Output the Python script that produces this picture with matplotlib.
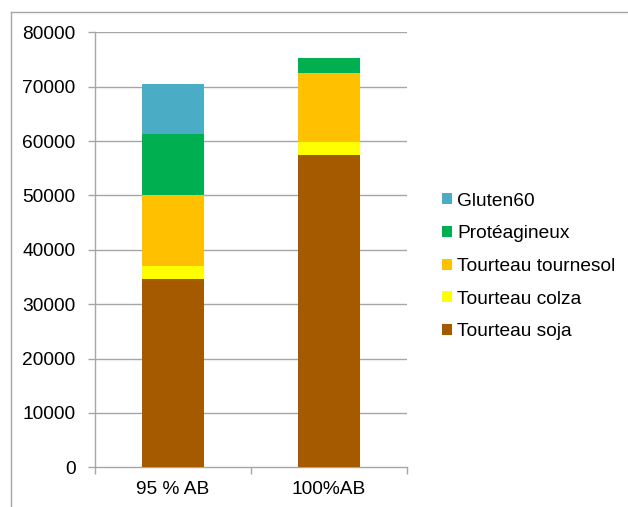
import matplotlib
matplotlib.use("Agg")
import matplotlib.pyplot as plt
from matplotlib.patches import Patch
from matplotlib.lines import Line2D
import numpy as np

plt.rcParams['font.family'] = ['Liberation Sans', 'DejaVu Sans']

# Stacked composition of the protein ration for each scenario
categories = ["95 % AB", "100%AB"]
series_names = ["Tourteau soja", "Tourteau colza", "Tourteau tournesol",
                "Protéagineux", "Gluten60"]
tourteau_soja = [34550, 57400]
tourteau_colza = [2380, 2440]
tourteau_tournesol = [13070, 12740]
proteagineux = [11300, 2740]
gluten60 = [9200, 0]
series_values = [tourteau_soja, tourteau_colza, tourteau_tournesol,
                 proteagineux, gluten60]
colors = ["#A65A00", "#FFFF00", "#FFC000", "#00B050", "#4BACC6"]
y_ticks = [0, 10000, 20000, 30000, 40000, 50000, 60000, 70000, 80000]

W, H = 628, 507
fig = plt.figure(figsize=(W / 100, H / 100), dpi=100)
ax = fig.add_axes([95 / W, 1 - 467.3 / H, (407 - 95) / W, (467.3 - 32.3) / H])

grid_color = "#A6A6A6"
fs = 13.8
x = np.arange(len(categories))
bottom = np.zeros(len(categories))
for name, vals, col in zip(series_names, series_values, colors):
    vals = np.array(vals, dtype=float)
    ax.bar(x, vals, width=0.4, bottom=bottom, color=col, label=name,
           zorder=3, linewidth=0)
    bottom += vals

ax.set_xlim(-0.5, len(categories) - 0.5)
ax.set_ylim(0, 80000)
ax.set_yticks(y_ticks)
ax.set_yticklabels([str(v) for v in y_ticks])
ax.set_xticks(x)
ax.set_xticklabels(categories)
ax.set_xticks(np.arange(-0.5, len(categories)), minor=True)

for v in y_ticks[1:]:
    ax.axhline(v, color=grid_color, linewidth=1.0, zorder=1)

for side in ("top", "right"):
    ax.spines[side].set_visible(False)
for side in ("left", "bottom"):
    ax.spines[side].set_color(grid_color)
    ax.spines[side].set_linewidth(1.0)

ax.tick_params(axis="y", direction="out", length=5, width=1.0,
               color=grid_color, labelsize=fs, pad=9, labelcolor="black")
ax.tick_params(axis="x", which="major", length=0, labelsize=fs, pad=10,
               labelcolor="black")
ax.tick_params(axis="x", which="minor", direction="out", length=5,
               width=1.0, color=grid_color)

handles = [Patch(facecolor=c, edgecolor="none") for c in colors][::-1]
labels = series_names[::-1]
fig.legend(handles, labels, loc="center left",
           bbox_to_anchor=(442 / W, 1 - 266.5 / H), frameon=False,
           fontsize=fs, handlelength=0.5, handleheight=0.5,
           handletextpad=0.3, labelspacing=0.82, borderpad=0,
           borderaxespad=0)

# Outer chart border (left and top edges)
fig.add_artist(Line2D([11 / W, 11 / W], [0, 1 - 12 / H],
                      transform=fig.transFigure, color=grid_color, lw=1.0))
fig.add_artist(Line2D([11 / W, 1], [1 - 12 / H, 1 - 12 / H],
                      transform=fig.transFigure, color=grid_color, lw=1.0))

fig.savefig("out.png", dpi=100, facecolor="white")
